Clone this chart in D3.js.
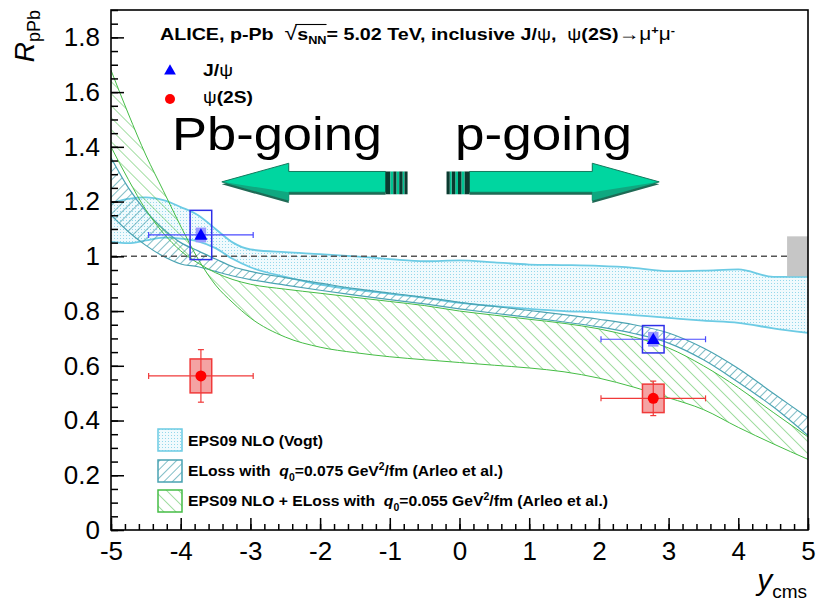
<!DOCTYPE html>
<html lang="en">
<head>
<meta charset="UTF-8">
<title>R_pPb vs y_cms</title>
<script src="https://d3js.org/d3.v7.min.js"></script>
<style>
  body { margin: 0; background: #fff; }
  text { font-family: "Liberation Sans", Arial, sans-serif; }
</style>
</head>
<body>
<div id="chart"></div>
<script>
// ---- data ----
const xGrid = [-5, -4.75, -4.5, -4.25, -4, -3.75, -3.5, -3.25, -3, -2.5, -2, -1.5, -1, -0.5, 0, 0.5, 1, 1.5, 2, 2.5, 3, 3.5, 4, 4.5, 5];

// EPS09 NLO (Vogt)
const vogtUp = [1.195, 1.21, 1.215, 1.205, 1.18, 1.15, 1.10, 1.05, 1.025, 1.015, 1.008, 1.0, 0.99, 0.982, 0.985, 0.978, 0.97, 0.968, 0.965, 0.958, 0.946, 0.948, 0.952, 0.925, 0.925];
const vogtLo = [1.053, 1.048, 1.058, 1.068, 1.065, 1.055, 1.03, 0.99, 0.96, 0.925, 0.897, 0.878, 0.863, 0.848, 0.83, 0.818, 0.808, 0.80, 0.795, 0.785, 0.775, 0.765, 0.757, 0.737, 0.72];

// ELoss q0 = 0.075
const elossUp = [1.36, 1.25, 1.165, 1.10, 1.05, 1.02, 0.99, 0.962, 0.945, 0.922, 0.902, 0.882, 0.866, 0.85, 0.832, 0.817, 0.802, 0.787, 0.77, 0.75, 0.72, 0.665, 0.59, 0.50, 0.41];
const elossLo = [1.15, 1.09, 1.04, 1.0, 0.972, 0.962, 0.945, 0.928, 0.915, 0.895, 0.876, 0.858, 0.842, 0.826, 0.808, 0.792, 0.777, 0.76, 0.742, 0.718, 0.683, 0.622, 0.54, 0.45, 0.345];

// EPS09 NLO + ELoss q0 = 0.055 (the two edges cross near y = -3.7)
const combA = [1.68, 1.52, 1.37, 1.24, 1.11, 0.99, 0.895, 0.83, 0.775, 0.705, 0.668, 0.648, 0.633, 0.622, 0.612, 0.602, 0.592, 0.578, 0.555, 0.522, 0.483, 0.44, 0.375, 0.315, 0.258];
const combB = [1.40, 1.28, 1.17, 1.085, 1.02, 0.975, 0.94, 0.915, 0.898, 0.88, 0.865, 0.85, 0.835, 0.82, 0.80, 0.785, 0.77, 0.755, 0.735, 0.705, 0.665, 0.60, 0.52, 0.43, 0.34];

// measurements
const jpsiX = [-3.71, 2.78];
const jpsiXlo = [-4.46, 2.03];
const jpsiXhi = [-2.96, 3.53];
const jpsiY = [1.078, 0.697];
const jpsiStat = [0.01, 0.01];
const jpsiSys = [0.09, 0.05];
const jpsiCorr = [0.027, 0.027];

const psi2X = [-3.71, 2.78];
const psi2Xlo = [-4.46, 2.03];
const psi2Xhi = [-2.96, 3.53];
const psi2Y = [0.563, 0.481];
const psi2Stat = [0.096, 0.063];
const psi2Sys = [0.062, 0.052];

const globalUnc = 0.073;

const xTickValues = [-5, -4, -3, -2, -1, 0, 1, 2, 3, 4, 5];
const xTickLabels = ["-5", "-4", "-3", "-2", "-1", "0", "1", "2", "3", "4", "5"];
const yTickValues = [0, 0.2, 0.4, 0.6, 0.8, 1, 1.2, 1.4, 1.6, 1.8];
const yTickLabels = ["0", "0.2", "0.4", "0.6", "0.8", "1", "1.2", "1.4", "1.6", "1.8"];

// ---- layout ----
const W = 817, H = 605;
const margin = {top: 10, right: 9, bottom: 75, left: 111};
const width = W - margin.left - margin.right;
const height = H - margin.top - margin.bottom;

const svg = d3.select("#chart").append("svg")
    .attr("width", W).attr("height", H);

const defs = svg.append("defs");

const dots = defs.append("pattern").attr("id", "cyanDots")
    .attr("patternUnits", "userSpaceOnUse").attr("width", 3).attr("height", 3);
dots.append("rect").attr("width", 3).attr("height", 3).attr("fill", "#f0fafd");
dots.append("rect").attr("width", 1).attr("height", 1).attr("fill", "#94d8eb");

const tealH = defs.append("pattern").attr("id", "tealHatch")
    .attr("patternUnits", "userSpaceOnUse").attr("width", 6).attr("height", 6)
    .attr("patternTransform", "rotate(45)");
tealH.append("line").attr("x1", 0).attr("y1", 0).attr("x2", 0).attr("y2", 6)
    .attr("stroke", "#3d9aa8").attr("stroke-width", 1.3);

const greenH = defs.append("pattern").attr("id", "greenHatch")
    .attr("patternUnits", "userSpaceOnUse").attr("width", 8.5).attr("height", 8.5)
    .attr("patternTransform", "rotate(-45)");
greenH.append("line").attr("x1", 0).attr("y1", 0).attr("x2", 0).attr("y2", 8.5)
    .attr("stroke", "#45bd45").attr("stroke-width", 1);

defs.append("clipPath").attr("id", "frameClip")
    .append("rect").attr("width", width).attr("height", height);

const g = svg.append("g").attr("transform", `translate(${margin.left},${margin.top})`);

const x = d3.scaleLinear().domain([-5, 5]).range([0, width]);
const y = d3.scaleLinear().domain([0, 1.9]).range([height, 0]);

const plot = g.append("g").attr("clip-path", "url(#frameClip)");

const pts = arr => xGrid.map((v, i) => [v, arr[i]]);
const line = d3.line().x(d => x(d[0])).y(d => y(d[1])).curve(d3.curveMonotoneX);
const bandPath = (up, lo) => {
    const a = line(pts(up));
    const b = line(pts(lo).reverse());
    return a + "L" + b.slice(1) + "Z";
};

// EPS09 NLO (Vogt)
plot.append("path").attr("d", bandPath(vogtUp, vogtLo)).attr("fill", "url(#cyanDots)");
[vogtUp, vogtLo].forEach(arr => plot.append("path").attr("d", line(pts(arr)))
    .attr("fill", "none").attr("stroke", "#6ccbe4").attr("stroke-width", 1.8));

// ELoss
plot.append("path").attr("d", bandPath(elossUp, elossLo)).attr("fill", "url(#tealHatch)");
[elossUp, elossLo].forEach(arr => plot.append("path").attr("d", line(pts(arr)))
    .attr("fill", "none").attr("stroke", "#4aa3b2").attr("stroke-width", 1.2));

// EPS09 + ELoss
plot.append("path").attr("d", bandPath(combA, combB)).attr("fill", "url(#greenHatch)");
[combA, combB].forEach(arr => plot.append("path").attr("d", line(pts(arr)))
    .attr("fill", "none").attr("stroke", "#45bd45").attr("stroke-width", 1));

// dashed unity line
plot.append("line")
    .attr("x1", x(-5)).attr("x2", x(5)).attr("y1", y(1)).attr("y2", y(1))
    .attr("stroke", "#555").attr("stroke-width", 1.6).attr("stroke-dasharray", "6,4");

// global uncertainty box
plot.append("rect")
    .attr("x", x(4.7)).attr("width", x(5) - x(4.7))
    .attr("y", y(1 + globalUnc)).attr("height", y(1 - globalUnc) - y(1 + globalUnc))
    .attr("fill", "#c6c6c6");

// J/psi points
const boxHalf = 0.155, corrHalf = 0.075;
jpsiX.forEach((xv, i) => {
    const p = plot.append("g");
    p.append("rect")
        .attr("x", x(xv - corrHalf)).attr("width", x(xv + corrHalf) - x(xv - corrHalf))
        .attr("y", y(jpsiY[i] + jpsiCorr[i])).attr("height", y(jpsiY[i] - jpsiCorr[i]) - y(jpsiY[i] + jpsiCorr[i]))
        .attr("fill", "#9a9aff");
    p.append("rect")
        .attr("x", x(xv - boxHalf)).attr("width", x(xv + boxHalf) - x(xv - boxHalf))
        .attr("y", y(jpsiY[i] + jpsiSys[i])).attr("height", y(jpsiY[i] - jpsiSys[i]) - y(jpsiY[i] + jpsiSys[i]))
        .attr("fill", "none").attr("stroke", "#2f2fe8").attr("stroke-width", 1.5);
    p.append("line").attr("x1", x(jpsiXlo[i])).attr("x2", x(jpsiXhi[i]))
        .attr("y1", y(jpsiY[i])).attr("y2", y(jpsiY[i])).attr("stroke", "#4a4aff").attr("stroke-width", 1.2);
    [jpsiXlo[i], jpsiXhi[i]].forEach(e => p.append("line").attr("x1", x(e)).attr("x2", x(e))
        .attr("y1", y(jpsiY[i]) - 3).attr("y2", y(jpsiY[i]) + 3).attr("stroke", "#4a4aff").attr("stroke-width", 1.2));
    p.append("line").attr("x1", x(xv)).attr("x2", x(xv))
        .attr("y1", y(jpsiY[i] + jpsiStat[i])).attr("y2", y(jpsiY[i] - jpsiStat[i])).attr("stroke", "#4a4aff");
    p.append("path").attr("d", d3.symbol(d3.symbolTriangle, 75)())
        .attr("transform", `translate(${x(xv)},${y(jpsiY[i]) + 1})`).attr("fill", "#0000ff");
});

// psi(2S) points
psi2X.forEach((xv, i) => {
    const p = plot.append("g");
    p.append("rect")
        .attr("x", x(xv - boxHalf)).attr("width", x(xv + boxHalf) - x(xv - boxHalf))
        .attr("y", y(psi2Y[i] + psi2Sys[i])).attr("height", y(psi2Y[i] - psi2Sys[i]) - y(psi2Y[i] + psi2Sys[i]))
        .attr("fill", "#f4a3a3").attr("stroke", "#f03a3a").attr("stroke-width", 1.5);
    p.append("line").attr("x1", x(psi2Xlo[i])).attr("x2", x(psi2Xhi[i]))
        .attr("y1", y(psi2Y[i])).attr("y2", y(psi2Y[i])).attr("stroke", "#f03a3a").attr("stroke-width", 1.2);
    [psi2Xlo[i], psi2Xhi[i]].forEach(e => p.append("line").attr("x1", x(e)).attr("x2", x(e))
        .attr("y1", y(psi2Y[i]) - 3).attr("y2", y(psi2Y[i]) + 3).attr("stroke", "#f03a3a").attr("stroke-width", 1.2));
    p.append("line").attr("x1", x(xv)).attr("x2", x(xv))
        .attr("y1", y(psi2Y[i] + psi2Stat[i])).attr("y2", y(psi2Y[i] - psi2Stat[i])).attr("stroke", "#f03a3a").attr("stroke-width", 1.2);
    [psi2Y[i] + psi2Stat[i], psi2Y[i] - psi2Stat[i]].forEach(e => p.append("line")
        .attr("x1", x(xv) - 3).attr("x2", x(xv) + 3).attr("y1", y(e)).attr("y2", y(e))
        .attr("stroke", "#f03a3a").attr("stroke-width", 1.2));
    p.append("circle").attr("cx", x(xv)).attr("cy", y(psi2Y[i])).attr("r", 5.5).attr("fill", "#ff0000");
});

// ---- axes ----
const styleAxis = sel => {
    sel.select(".domain").remove();
    sel.selectAll("line").attr("stroke", "#000").attr("stroke-width", 1.5);
    sel.selectAll("text").attr("font-size", 26).attr("fill", "#000")
        .attr("font-family", '"Liberation Sans", Arial, sans-serif');
};

g.append("g").call(d3.axisLeft(y).ticks(38).tickSize(-7).tickFormat("")).call(styleAxis);
g.append("g").call(d3.axisLeft(y).tickValues(yTickValues).tickSize(-13).tickPadding(11)
    .tickFormat((d, i) => yTickLabels[i])).call(styleAxis);

g.append("g").attr("transform", `translate(0,${height})`)
    .call(d3.axisBottom(x).ticks(50).tickSize(-6).tickFormat("")).call(styleAxis);
g.append("g").attr("transform", `translate(0,${height})`)
    .call(d3.axisBottom(x).tickValues(xTickValues).tickSize(-12).tickPadding(12)
    .tickFormat((d, i) => xTickLabels[i])).call(styleAxis);

g.append("rect").attr("width", width).attr("height", height)
    .attr("fill", "none").attr("stroke", "#000").attr("stroke-width", 1.6);

// axis titles
const yTitle = svg.append("text").attr("transform", "translate(34,10) rotate(-90)")
    .attr("text-anchor", "end").attr("font-size", 28);
yTitle.append("tspan").attr("font-style", "italic").text("R");
yTitle.append("tspan").attr("font-size", 18).attr("dy", 6).text("pPb");

const xTitle = svg.append("text").attr("x", 807).attr("y", 590)
    .attr("text-anchor", "end").attr("font-size", 30);
xTitle.append("tspan").attr("font-style", "italic").text("y");
xTitle.append("tspan").attr("font-size", 19).attr("dy", 8).text("cms");

// ---- title ----
const title = svg.append("text").attr("x", 160).attr("y", 40)
    .attr("font-weight", "bold").attr("font-size", 17).style("white-space", "pre")
    .attr("textLength", 515).attr("lengthAdjust", "spacingAndGlyphs");
title.append("tspan").text("ALICE, p-Pb  ");
title.append("tspan").attr("font-weight", "normal").attr("font-size", 20).text("\u221A");
title.append("tspan").text("s");
title.append("tspan").attr("font-size", 11).attr("dy", 4).text("NN");
title.append("tspan").attr("dy", -4).text("= 5.02 TeV, inclusive J/");
title.append("tspan").attr("font-weight", "normal").text("\u03C8");
title.append("tspan").text(",  ");
title.append("tspan").attr("font-weight", "normal").text("\u03C8");
title.append("tspan").text("(2S)");
title.append("tspan").attr("font-weight", "normal").attr("font-size", 18).text("\u2192\u03BC");
title.append("tspan").attr("font-size", 11).attr("dy", -6).text("+");
title.append("tspan").attr("font-weight", "normal").attr("font-size", 18).attr("dy", 6).text("\u03BC");
title.append("tspan").attr("font-size", 11).attr("dy", -6).text("-");
{
    const n = title.node();
    const x0 = n.getStartPositionOfChar(13).x + 11;
    const x1 = n.getEndPositionOfChar(16).x;
    svg.append("line").attr("x1", x0).attr("x2", x1).attr("y1", 24.5).attr("y2", 24.5)
        .attr("stroke", "#000").attr("stroke-width", 1.1);
}

// ---- top legend ----
svg.append("path").attr("d", d3.symbol(d3.symbolTriangle, 60)())
    .attr("transform", "translate(170,71)").attr("fill", "#0000ff");
const l1 = svg.append("text").attr("x", 203).attr("y", 76).attr("font-size", 17).attr("font-weight", "bold")
    .attr("textLength", 30).attr("lengthAdjust", "spacingAndGlyphs");
l1.append("tspan").text("J/");
l1.append("tspan").attr("font-weight", "normal").text("\u03C8");
svg.append("circle").attr("cx", 170).attr("cy", 99).attr("r", 5).attr("fill", "#ff0000");
const l2 = svg.append("text").attr("x", 203).attr("y", 103).attr("font-size", 17).attr("font-weight", "bold")
    .attr("textLength", 50).attr("lengthAdjust", "spacingAndGlyphs");
l2.append("tspan").attr("font-weight", "normal").text("\u03C8");
l2.append("tspan").text("(2S)");

// ---- Pb-going / p-going ----
svg.append("text").attr("x", 172).attr("y", 150).attr("font-size", 46)
    .attr("textLength", 210).attr("lengthAdjust", "spacingAndGlyphs").text("Pb-going");
svg.append("text").attr("x", 455).attr("y", 150).attr("font-size", 46)
    .attr("textLength", 177).attr("lengthAdjust", "spacingAndGlyphs").text("p-going");

// arrows in data units: tip, head base, shaft end, stripes end
const arrows = [
    {tip: -3.41, head: -2.45, shaft: -1.06, end: -0.745},
    {tip: 2.865, head: 1.905, shaft: 0.143, end: -0.186}
];
const arrowY = 1.272, headHalf = 0.068, shaftHalf = 0.038;
arrows.forEach(a => {
    const cy = y(arrowY) + margin.top;
    const hh = y(0) - y(headHalf), sh = y(0) - y(shaftHalf);
    const X = v => x(v) + margin.left;
    const poly = [[X(a.tip), cy], [X(a.head), cy - hh], [X(a.head), cy - sh], [X(a.shaft), cy - sh],
                  [X(a.shaft), cy + sh], [X(a.head), cy + sh], [X(a.head), cy + hh]];
    const ag = svg.append("g");
    ag.append("polygon").attr("points", poly.map(p => [p[0], p[1] + 2.5].join(",")).join(" "))
        .attr("fill", "#1f6a55");
    ag.append("polygon").attr("points", poly.map(p => p.join(",")).join(" "))
        .attr("fill", "#00d6a0").attr("stroke", "#167a5e").attr("stroke-width", 1);
    // darker lower half of head for a bevelled look
    ag.append("polygon").attr("points", [[X(a.tip), cy], [X(a.head), cy + hh], [X(a.head), cy + sh]].map(p => p.join(",")).join(" "))
        .attr("fill", "#0fa880");
    // striped end
    const dir = a.end > a.shaft ? 1 : -1;
    const x0 = X(a.shaft), len = Math.abs(X(a.end) - X(a.shaft));
    const stripes = [[0, 0.22, "#0a3b30"], [0.22, 0.35, "#00c493"], [0.35, 0.5, "#0a3b30"], [0.5, 0.62, "#00c493"],
                     [0.62, 0.78, "#0a3b30"], [0.78, 0.86, "#00c493"], [0.86, 1, "#0a3b30"]];
    stripes.forEach(s => {
        const xa = x0 + dir * s[0] * len, xb = x0 + dir * s[1] * len;
        ag.append("rect").attr("x", Math.min(xa, xb)).attr("width", Math.abs(xb - xa))
            .attr("y", cy - sh).attr("height", 2 * sh + 2).attr("fill", s[2]);
    });
});

// ---- bottom legend ----
const legendItems = [
    {fill: "url(#cyanDots)", stroke: "#6ccbe4"},
    {fill: "url(#tealHatch)", stroke: "#4aa3b2"},
    {fill: "url(#greenHatch)", stroke: "#45bd45"}
];
const legTop = [429, 460, 490];
legendItems.forEach((it, i) => {
    svg.append("rect").attr("x", 158).attr("y", legTop[i]).attr("width", 24).attr("height", 22)
        .attr("fill", it.fill).attr("stroke", it.stroke).attr("stroke-width", 1.5);
});
const lt = (yy, len) => svg.append("text").attr("x", 188).attr("y", yy)
    .attr("font-size", 15).attr("font-weight", "bold").style("white-space", "pre")
    .attr("textLength", len).attr("lengthAdjust", "spacingAndGlyphs");
lt(446, 135).text("EPS09 NLO (Vogt)");
{
    const t = lt(476, 315);
    t.append("tspan").text("ELoss with  ");
    t.append("tspan").attr("font-style", "italic").text("q");
    t.append("tspan").attr("font-size", 10).attr("dy", 5).text("0");
    t.append("tspan").attr("dy", -5).text("=0.075 GeV");
    t.append("tspan").attr("font-size", 10).attr("dy", -6).text("2");
    t.append("tspan").attr("dy", 6).text("/fm (Arleo et al.)");
}
{
    const t = lt(506, 420);
    t.append("tspan").text("EPS09 NLO + ELoss with  ");
    t.append("tspan").attr("font-style", "italic").text("q");
    t.append("tspan").attr("font-size", 10).attr("dy", 5).text("0");
    t.append("tspan").attr("dy", -5).text("=0.055 GeV");
    t.append("tspan").attr("font-size", 10).attr("dy", -6).text("2");
    t.append("tspan").attr("dy", 6).text("/fm (Arleo et al.)");
}
</script>
</body>
</html>
